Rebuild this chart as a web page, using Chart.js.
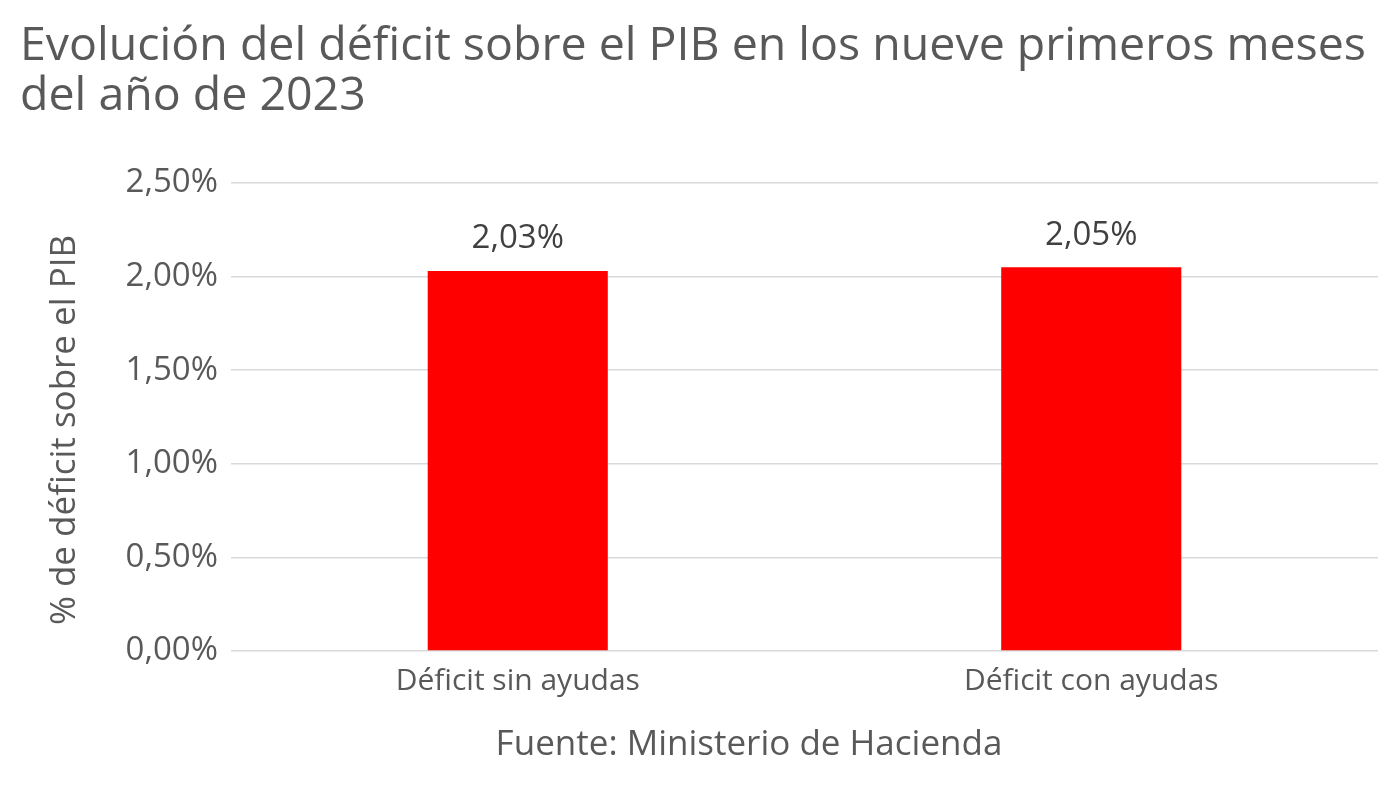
<!DOCTYPE html>
<html>
<head>
<meta charset="utf-8">
<script src="https://cdn.jsdelivr.net/npm/chart.js@4.4.0/dist/chart.umd.min.js"></script>
<style>
  body { margin: 0; background: #fff; }
  #wrap { width: 1400px; height: 797px; }
</style>
</head>
<body>
<div id="wrap"><canvas id="myChart" width="1400" height="797"></canvas></div>
<script>
// Data
var categories = ['Déficit sin ayudas', 'Déficit con ayudas'];
var deficitValues = [2.03, 2.05];
var titleLines = ['Evolución del déficit sobre el PIB en los nueve primeros meses', 'del año de 2023'];
var yAxisTitle = '% de déficit sobre el PIB';
var sourceText = 'Fuente: Ministerio de Hacienda';

var FONT = '"Open Sans", Lato, sans-serif';
var GREY = '#595959';

function pct(v) {
    return v.toFixed(2).replace('.', ',') + '%';
}

// Draws the value above each bar
var barLabels = {
    id: 'barLabels',
    afterDatasetsDraw: function(chart) {
        var c = chart.ctx;
        var meta = chart.getDatasetMeta(0);
        c.save();
        c.font = '33px ' + FONT;
        c.fillStyle = '#404040';
        c.textAlign = 'center';
        c.textBaseline = 'middle';
        meta.data.forEach(function(bar, i) {
            c.fillText(pct(chart.data.datasets[0].data[i]), bar.x, bar.y - 32);
        });
        c.restore();
    }
};

// Vertical axis title and the source line under the category labels
var sideTexts = {
    id: 'sideTexts',
    afterDraw: function(chart) {
        var c = chart.ctx;
        var area = chart.chartArea;
        c.save();
        c.fillStyle = GREY;
        c.textAlign = 'center';
        c.textBaseline = 'middle';

        c.font = '35px ' + FONT;
        c.save();
        c.translate(65, (area.top + area.bottom) / 2 + 13);
        c.rotate(-Math.PI / 2);
        c.fillText(yAxisTitle, 0, 0);
        c.restore();

        c.font = '35px ' + FONT;
        c.fillText(sourceText, 749, 745);
        c.restore();
    }
};

var ctx = document.getElementById('myChart').getContext('2d');

var chart = new Chart(ctx, {
    type: 'bar',
    data: {
        labels: categories,
        datasets: [{
            data: deficitValues,
            backgroundColor: '#ff0000',
            borderWidth: 0,
            categoryPercentage: 1,
            barPercentage: 0.314
        }]
    },
    options: {
        responsive: false,
        animation: false,
        devicePixelRatio: 1,
        layout: { padding: { left: 20, right: 22, top: 0, bottom: 0 } },
        plugins: {
            legend: { display: false },
            tooltip: { enabled: false },
            title: {
                display: true,
                text: titleLines,
                align: 'start',
                color: GREY,
                font: { family: FONT, size: 46.5, weight: 'normal', lineHeight: 50 / 46.5 },
                padding: { top: 22, bottom: 61 }
            }
        },
        scales: {
            x: {
                grid: { display: false },
                border: { display: false },
                ticks: {
                    color: GREY,
                    font: { family: FONT, size: 30 },
                    padding: 4
                },
                afterFit: function(scale) { scale.height = 146; }
            },
            y: {
                min: 0,
                max: 2.5,
                ticks: {
                    stepSize: 0.5,
                    color: GREY,
                    font: { family: FONT, size: 33 },
                    padding: 13,
                    callback: function(value) { return pct(value); }
                },
                grid: { color: '#d9d9d9', lineWidth: 1.5, drawTicks: false },
                border: { display: false },
                afterFit: function(scale) { scale.width = 211; }
            }
        }
    },
    plugins: [barLabels, sideTexts]
});
</script>
</body>
</html>
